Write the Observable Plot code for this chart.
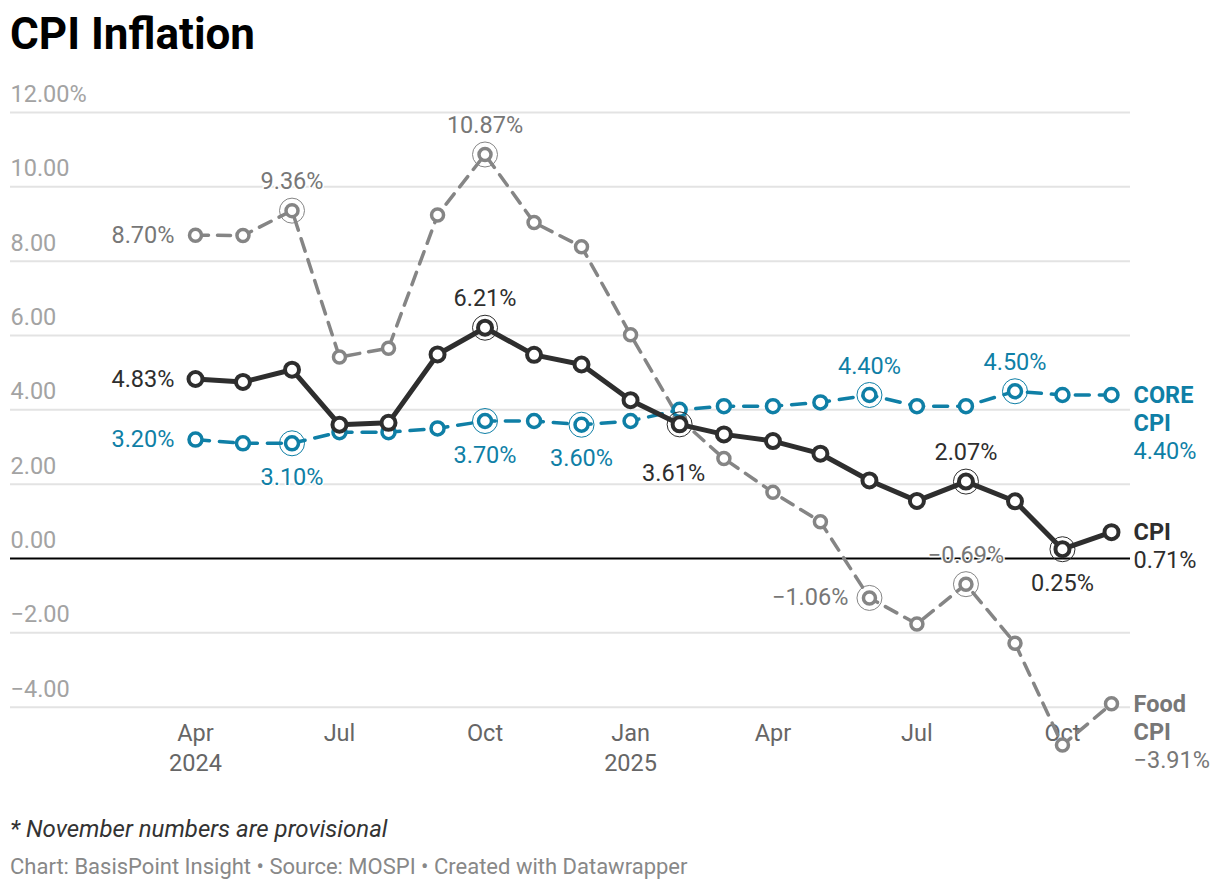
<!DOCTYPE html>
<html><head><meta charset="utf-8">
<script src="https://cdn.jsdelivr.net/npm/d3@7"></script>
<script src="https://cdn.jsdelivr.net/npm/@observablehq/plot@0.6"></script>
<style>
body{margin:0;background:#fff;font-family:Roboto,sans-serif;width:1220px;height:892px;position:relative;overflow:hidden}
#title{position:absolute;left:10px;top:8px;font-size:44px;font-weight:700;color:#000;line-height:1.2}
#chart{position:absolute;left:0;top:75px}
#note{position:absolute;left:10px;top:815px;font-size:24px;font-style:italic;color:#333;line-height:1.2}
#credit{position:absolute;left:10px;top:854px;font-size:22px;color:#888;line-height:1.2}
</style></head><body>
<div id="title">CPI Inflation</div>
<div id="chart"></div>
<div id="note">* November numbers are provisional</div>
<div id="credit">Chart: BasisPoint Insight • Source: MOSPI • Created with Datawrapper</div>
<script>
const months = ["2024-04","2024-05","2024-06","2024-07","2024-08","2024-09","2024-10","2024-11","2024-12",
  "2025-01","2025-02","2025-03","2025-04","2025-05","2025-06","2025-07","2025-08","2025-09","2025-10","2025-11"];
const cpi  = [4.83,4.75,5.08,3.60,3.65,5.49,6.21,5.48,5.22,4.26,3.61,3.34,3.16,2.82,2.10,1.55,2.07,1.54,0.25,0.71];
const core = [3.20,3.10,3.10,3.40,3.40,3.50,3.70,3.70,3.60,3.70,4.00,4.10,4.10,4.20,4.40,4.10,4.10,4.50,4.40,4.40];
const food = [8.70,8.69,9.36,5.42,5.66,9.24,10.87,9.04,8.39,6.02,3.75,2.69,1.78,0.99,-1.06,-1.76,-0.69,-2.28,-5.02,-3.91];
const yTicks = [12,10,8,6,4,2,0,-2,-4];
const xTickMonths = ["2024-04","2024-07","2024-10","2025-01","2025-04","2025-07","2025-10"];
const xTickLabels = ["Apr\n2024","Jul","Oct","Jan\n2025","Apr","Jul","Oct"];

// annotations: which months get a ring / label and where the label goes
const foodRings = ["2024-06","2024-10","2025-06","2025-08"];
const foodLeft  = ["2024-04","2025-06"];
const foodAbove = ["2024-06","2024-10","2025-08"];
const foodBelow = [];
const cpiRings  = ["2024-10","2025-02","2025-08","2025-10"];
const cpiLeft   = ["2024-04"];
const cpiAbove  = ["2024-10","2025-08"];
const cpiBelow  = ["2025-10"];
const cpiBelowFar = ["2025-02"];
const coreRings = ["2024-06","2024-10","2024-12","2025-06","2025-09"];
const coreLeft  = ["2024-04"];
const coreAbove = ["2025-06","2025-09"];
const coreBelow = ["2024-06","2024-10","2024-12"];

const parse = d3.utcParse("%Y-%m");
const fmtPct = v => (v < 0 ? "\u2212" : "") + Math.abs(v).toFixed(2) + "%";
const fmtTick = v => (v < 0 ? "\u2212" : "") + Math.abs(v).toFixed(2) + (v === 12 ? "%" : "");

const series = [
  {key:"food", name:"Food\nCPI", values:food, color:"#858585", text:"#777", width:3.5, dash:"13,9", r:6, sw:3.5, rings:foodRings, left:foodLeft, above:foodAbove, below:foodBelow, belowFar:[]},
  {key:"core", name:"CORE\nCPI", values:core, color:"#0f7fa6", text:"#0f7fa6", width:3.5, dash:"14,10", r:6.5, sw:3.5, rings:coreRings, left:coreLeft, above:coreAbove, below:coreBelow, belowFar:[]},
  {key:"cpi", name:"CPI", values:cpi, color:"#2e2e2e", text:"#2e2e2e", width:5, dash:null, r:7, sw:4, rings:cpiRings, left:cpiLeft, above:cpiAbove, below:cpiBelow, belowFar:cpiBelowFar}
];

const FS = 23.5;
const marks = [
  Plot.ruleY(yTicks.filter(d => d !== 0), {stroke:"#e3e3e3", strokeWidth:2}),
  Plot.text(yTicks, {y:d => d, text:fmtTick, frameAnchor:"left", textAnchor:"start", dy:-18, fill:"#a3a3a3", fontSize:FS}),
  Plot.ruleY([0], {stroke:"#000", strokeWidth:2}),
  Plot.text(xTickMonths.map((m,i) => ({date:parse(m), label:xTickLabels[i]})),
    {x:"date", text:"label", frameAnchor:"bottom", lineAnchor:"top", dy:13, lineHeight:1.27, fill:"#666", fontSize:FS})
];

for (const s of series) {
  const data = months.map((m,i) => ({month:m, date:parse(m), value:s.values[i]}));
  const pick = list => data.filter(d => list.includes(d.month));
  const last = data[data.length-1];
  const halo = {stroke:"white", strokeWidth:3, fontSize:FS, fill:s.text};
  marks.push(
    Plot.line(data, {x:"date", y:"value", stroke:s.color, strokeWidth:s.width, strokeDasharray:s.dash, strokeLinejoin:"round"}),
    Plot.dot(pick(s.rings), {x:"date", y:"value", r:12.5, stroke:s.color, strokeWidth:1, fill:"none"}),
    Plot.dot(data, {x:"date", y:"value", r:s.r, stroke:s.color, strokeWidth:s.sw, fill:"white"}),
    Plot.text(pick(s.left), {x:"date", y:"value", text:d => fmtPct(d.value), textAnchor:"end", dx:-21, ...halo}),
    Plot.text(pick(s.above), {x:"date", y:"value", text:d => fmtPct(d.value), dy:-29, ...halo}),
    Plot.text(pick(s.below), {x:"date", y:"value", text:d => fmtPct(d.value), dy:34, ...halo}),
    Plot.text(pick(s.belowFar), {x:"date", y:"value", text:d => fmtPct(d.value), dy:49, dx:-6, ...halo}),
    Plot.text([last], {x:"date", y:"value", text:() => s.name, textAnchor:"start", lineAnchor:"top", dx:22, dy:-12, lineHeight:1.2, fontWeight:700, fill:s.text, fontSize:FS}),
    Plot.text([last], {x:"date", y:"value", text:d => fmtPct(d.value), textAnchor:"start", lineAnchor:"top", dx:22, dy:-9 + 28*s.name.split("\n").length, fill:s.text, fontSize:FS})
  );
}

const chart = Plot.plot({
  width:1220, height:715,
  marginLeft:10, marginRight:90, marginTop:37, marginBottom:83.3,
  style:{fontFamily:"Roboto, sans-serif", background:"white", overflow:"visible"},
  x:{type:"utc", domain:[parse(months[0]), parse(months[months.length-1])], insetLeft:185, insetRight:19, axis:null},
  y:{domain:[-4,12], axis:null},
  marks
});
document.getElementById("chart").appendChild(chart);
</script>
</body></html>
